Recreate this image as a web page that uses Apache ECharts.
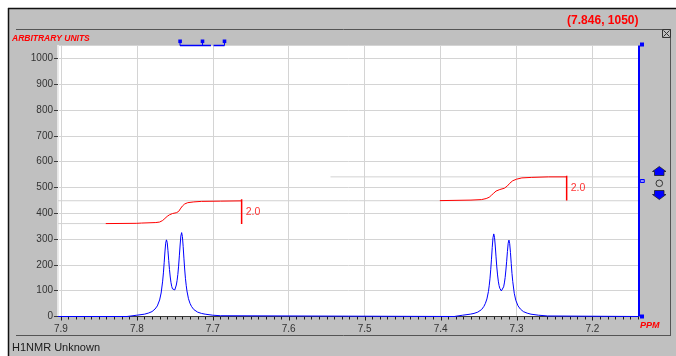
<!DOCTYPE html>
<html>
<head>
<meta charset="utf-8">
<script src="https://cdn.jsdelivr.net/npm/echarts@6/dist/echarts.min.js"></script>
<style>
html, body { margin: 0; padding: 0; background: #ffffff; }
#chart { width: 676px; height: 356px; }
</style>
</head>
<body>
<div id="chart"></div>
<script>
// Axis extents (ppm runs right-to-left, intensity bottom-to-top)
const ppmRange = [7.1394, 7.9038];
const intensityRange = [0, 1050];
// Fine ppm graduation along the bottom axis (hundredths of a ppm)
const minorTickStep = 0.01;

// H1 spectrum trace: [ppm, intensity]
const spectrum = [
  [7.9038, 0], [7.813, 0], [7.812, 2], [7.800, 5], [7.790, 9], [7.785, 13], [7.780, 19],
  [7.776, 29], [7.773, 41], [7.770, 64], [7.768, 91], [7.766, 137], [7.765, 169], [7.764, 208],
  [7.763, 250], [7.762, 284], [7.761, 297], [7.760, 287], [7.759, 255], [7.758, 217], [7.757, 182],
  [7.756, 153], [7.755, 131], [7.754, 116], [7.753, 107], [7.752, 102], [7.751, 100], [7.750, 103],
  [7.749, 110], [7.748, 122], [7.747, 139], [7.746, 163], [7.745, 195], [7.744, 235], [7.743, 277],
  [7.742, 312], [7.741, 325], [7.740, 310], [7.739, 272], [7.738, 226], [7.737, 184], [7.736, 148],
  [7.735, 121], [7.734, 99], [7.732, 69], [7.730, 51], [7.728, 39], [7.725, 27], [7.720, 17],
  [7.715, 12], [7.710, 9], [7.700, 5], [7.690, 3], [7.689, 0],
  [7.382, 0], [7.381, 3], [7.371, 5], [7.361, 9], [7.356, 12], [7.351, 17], [7.346, 27],
  [7.343, 39], [7.341, 51], [7.339, 68], [7.337, 97], [7.336, 119], [7.335, 146], [7.334, 181],
  [7.333, 222], [7.332, 268], [7.331, 305], [7.330, 320], [7.329, 307], [7.328, 273], [7.327, 231],
  [7.326, 192], [7.325, 161], [7.324, 137], [7.323, 120], [7.322, 109], [7.321, 102], [7.320, 99],
  [7.319, 101], [7.318, 106], [7.317, 115], [7.316, 130], [7.315, 151], [7.314, 180], [7.313, 214],
  [7.312, 252], [7.311, 284], [7.310, 296], [7.309, 282], [7.308, 248], [7.307, 206], [7.306, 167],
  [7.305, 136], [7.303, 90], [7.301, 63], [7.298, 41], [7.295, 29], [7.291, 19], [7.286, 13],
  [7.281, 9], [7.271, 5], [7.259, 2], [7.258, 0], [7.1394, 0]
];

// Integral curves over each doublet
const integral1 = [
  [7.841, 360], [7.800, 361], [7.794, 362], [7.775, 364], [7.770, 366], [7.766, 372], [7.763, 380],
  [7.760, 388], [7.757, 394], [7.753, 399], [7.748, 402], [7.745, 407], [7.742, 420], [7.740, 428],
  [7.737, 436], [7.733, 441], [7.725, 444], [7.715, 446], [7.690, 447], [7.662, 448]
];
const integral2 = [
  [7.401, 449], [7.360, 451], [7.346, 453], [7.340, 457], [7.336, 462], [7.333, 470], [7.330, 478],
  [7.327, 486], [7.322, 492], [7.316, 497], [7.312, 506], [7.309, 516], [7.305, 526], [7.300, 532],
  [7.293, 537], [7.280, 539], [7.258, 541], [7.234, 541]
];

// Integral end brackets: ppm, top, bottom, and their stated areas
const bracketPpm = [7.662, 7.234];
const bracketTop = [454, 545];
const bracketBottom = [358, 449];
const integralValues = [2.0, 2.0];

// Horizontal integral reference levels: [fromPpm, toPpm, level]
const integralGuides = [
  [7.9038, 7.841, 360],
  [7.9038, 7.1394, 448.5],
  [7.545, 7.1394, 541]
];

// Cursor readout
const cursorPpm = 7.846;
const cursorIntensity = 1050;

const FONT = '"Liberation Sans", Arial, sans-serif';

const chart = echarts.init(document.getElementById('chart'), null, { renderer: 'canvas' });

const series = [];
integralGuides.forEach(function (g) {
  series.push({
    type: 'line', silent: true, symbol: 'none', animation: false, z: 1,
    lineStyle: { color: '#d2d2d2', width: 1 },
    data: [[g[0], g[2]], [g[1], g[2]]]
  });
});
[integral1, integral2].forEach(function (d) {
  series.push({
    type: 'line', silent: true, symbol: 'none', animation: false, z: 3,
    lineStyle: { color: '#ff0000', width: 1 },
    data: d
  });
});
bracketPpm.forEach(function (p, i) {
  const mid = (bracketTop[i] + bracketBottom[i]) / 2;
  series.push({
    type: 'line', silent: true, symbol: 'none', animation: false, z: 3,
    lineStyle: { color: '#ff0000', width: 1.5 },
    data: [[p, bracketTop[i]], [p, bracketBottom[i]]]
  });
  series.push({
    type: 'scatter', silent: true, symbolSize: 0, animation: false, z: 4,
    data: [[p, mid]],
    label: {
      show: true, position: 'right', distance: 4,
      formatter: integralValues[i].toFixed(1),
      color: '#ff0000', fontFamily: FONT, fontSize: 10.5
    }
  });
});
series.push({
  type: 'line', silent: true, symbol: 'none', animation: false, z: 5,
  lineStyle: { color: '#0000ff', width: 1 },
  data: spectrum
});

chart.setOption({
  animation: false,
  backgroundColor: '#c0c0c0',
  grid: {
    left: 58, right: 37.5, top: 45.5, bottom: 39.5,
    show: true, backgroundColor: '#ffffff', borderWidth: 0
  },
  xAxis: {
    type: 'value', inverse: true,
    min: ppmRange[0], max: ppmRange[1], splitNumber: 8,
    axisLine: { show: true, onZero: false, lineStyle: { color: '#3a3a3a', width: 1 } },
    axisTick: { show: false },
    minorTick: { show: false },
    axisLabel: {
      showMinLabel: false, showMaxLabel: false, margin: 8,
      color: '#333333', fontFamily: FONT, fontSize: 10,
      formatter: function (v) { return v.toFixed(1); }
    },
    splitLine: { show: true, lineStyle: { color: '#d4d4d4', width: 1 } },
    minorSplitLine: { show: false }
  },
  yAxis: {
    type: 'value', min: intensityRange[0], max: intensityRange[1], interval: 100,
    axisLine: { show: true, lineStyle: { color: '#f4f4f4', width: 1.5 } },
    axisTick: { show: true, length: 4, lineStyle: { color: '#3a3a3a', width: 1 } },
    axisLabel: {
      showMaxLabel: false, margin: 5,
      color: '#333333', fontFamily: FONT, fontSize: 10,
      formatter: function (v) { return String(v); }
    },
    splitLine: { show: true, lineStyle: { color: '#d4d4d4', width: 1 } }
  },
  series: series
});

// Window chrome, slider handles and the vertical scale marker
const xr = chart.convertToPixel({ gridIndex: 0 }, [ppmRange[0], 0])[0];
const yTop = chart.convertToPixel({ gridIndex: 0 }, [ppmRange[0], intensityRange[1]])[1];
const yBot = chart.convertToPixel({ gridIndex: 0 }, [ppmRange[0], intensityRange[0]])[1];
const blue = '#0000ff';

const graphics = [
  // white outer margin and dark window edge
  { type: 'rect', silent: true, shape: { x: 0, y: 0, width: 676, height: 8 }, style: { fill: '#ffffff' } },
  { type: 'rect', silent: true, shape: { x: 0, y: 0, width: 8, height: 356 }, style: { fill: '#ffffff' } },
  { type: 'line', silent: true, shape: { x1: 8, y1: 8.5, x2: 676, y2: 8.5 }, style: { stroke: '#111', lineWidth: 1.5 } },
  { type: 'line', silent: true, shape: { x1: 8.5, y1: 8, x2: 8.5, y2: 356 }, style: { stroke: '#111', lineWidth: 1.5 } },
  { type: 'line', silent: true, shape: { x1: 16, y1: 29.5, x2: 671, y2: 29.5 }, style: { stroke: '#555', lineWidth: 1 } },
  { type: 'line', silent: true, shape: { x1: 670.5, y1: 29.5, x2: 670.5, y2: 335.5 }, style: { stroke: '#555', lineWidth: 1 } },
  { type: 'line', silent: true, shape: { x1: 16, y1: 335.5, x2: 671, y2: 335.5 }, style: { stroke: '#555', lineWidth: 1 } },
  // close box
  { type: 'rect', silent: true, shape: { x: 662.5, y: 29.5, width: 8, height: 8 }, style: { fill: '#c0c0c0', stroke: '#333', lineWidth: 1 } },
  { type: 'line', silent: true, shape: { x1: 663.5, y1: 30.5, x2: 669.5, y2: 36.5 }, style: { stroke: '#333', lineWidth: 1 } },
  { type: 'line', silent: true, shape: { x1: 669.5, y1: 30.5, x2: 663.5, y2: 36.5 }, style: { stroke: '#333', lineWidth: 1 } },
  // texts
  { type: 'text', silent: true, x: 638.5, y: 21, style: { text: '(' + cursorPpm.toFixed(3) + ', ' + cursorIntensity + ')', fill: '#ff0000', font: 'bold 12px ' + FONT, align: 'right', verticalAlign: 'middle' } },
  { type: 'text', silent: true, x: 12, y: 38.5, style: { text: 'ARBITRARY UNITS', fill: '#ff0000', font: 'italic bold 8.5px ' + FONT, align: 'left', verticalAlign: 'middle' } },
  { type: 'text', silent: true, x: 640, y: 326, style: { text: 'PPM', fill: '#ff0000', font: 'italic bold 9px ' + FONT, align: 'left', verticalAlign: 'middle' } },
  { type: 'text', silent: true, x: 12, y: 348, style: { text: 'H1NMR Unknown', fill: '#1a1a1a', font: '11px ' + FONT, align: 'left', verticalAlign: 'middle' } },
  // top slider handles
  { type: 'line', silent: true, shape: { x1: 180, y1: 45.5, x2: 211, y2: 45.5 }, style: { stroke: blue, lineWidth: 1.5 } },
  { type: 'line', silent: true, shape: { x1: 213.5, y1: 45.5, x2: 224.5, y2: 45.5 }, style: { stroke: blue, lineWidth: 1.5 } },
  { type: 'line', silent: true, shape: { x1: 180, y1: 42, x2: 180, y2: 45.5 }, style: { stroke: blue, lineWidth: 1 } },
  { type: 'line', silent: true, shape: { x1: 202.5, y1: 42, x2: 202.5, y2: 45.5 }, style: { stroke: blue, lineWidth: 1 } },
  { type: 'line', silent: true, shape: { x1: 224.5, y1: 42, x2: 224.5, y2: 45.5 }, style: { stroke: blue, lineWidth: 1 } },
  { type: 'rect', silent: true, shape: { x: 178.3, y: 39.5, width: 3.6, height: 3.6 }, style: { fill: blue } },
  { type: 'rect', silent: true, shape: { x: 200.7, y: 39.5, width: 3.6, height: 3.6 }, style: { fill: blue } },
  { type: 'rect', silent: true, shape: { x: 222.7, y: 39.5, width: 3.6, height: 3.6 }, style: { fill: blue } },
  // vertical scale marker at the right edge of the plot
  { type: 'line', silent: true, z: 10, shape: { x1: xr + 0.5, y1: yTop, x2: xr + 0.5, y2: yBot }, style: { stroke: blue, lineWidth: 2 } },
  { type: 'rect', silent: true, z: 10, shape: { x: xr + 1.5, y: yTop - 3, width: 4, height: 4 }, style: { fill: blue } },
  { type: 'rect', silent: true, z: 10, shape: { x: xr + 1.5, y: yBot - 2, width: 4, height: 4 }, style: { fill: blue } },
  { type: 'rect', silent: true, z: 10, shape: { x: xr + 1.8, y: 179.5, width: 4, height: 3 }, style: { fill: '#9090ff', stroke: blue, lineWidth: 1 } },
  // up / down arrows and centre ring
  { type: 'polygon', silent: true, shape: { points: [[659.3, 166.5], [666, 171.5], [664, 171.5], [664, 175.5], [654.5, 175.5], [654.5, 171.5], [652.5, 171.5]] }, style: { fill: blue, stroke: '#222', lineWidth: 0.8 } },
  { type: 'circle', silent: true, shape: { cx: 659.3, cy: 183.3, r: 3.3 }, style: { fill: 'none', stroke: '#333', lineWidth: 1 } },
  { type: 'polygon', silent: true, shape: { points: [[654.5, 190.5], [664, 190.5], [664, 194.5], [666, 194.5], [659.3, 199.5], [652.5, 194.5], [654.5, 194.5]] }, style: { fill: blue, stroke: '#222', lineWidth: 0.8 } }
];

// ppm graduation marks below the axis, placed through the axis scale
const firstTick = Math.ceil(ppmRange[0] / minorTickStep);
const lastTick = Math.floor(ppmRange[1] / minorTickStep);
for (let k = firstTick; k <= lastTick; k++) {
  const px = Math.round(chart.convertToPixel({ gridIndex: 0 }, [k * minorTickStep, 0])[0]) + 0.5;
  const major = k % 10 === 0;
  graphics.push({
    type: 'line', silent: true, z: 20,
    shape: { x1: px, y1: yBot + 0.5, x2: px, y2: yBot + (major ? 4 : 3) },
    style: { stroke: '#1a1a1a', lineWidth: 1 }
  });
}

chart.setOption({ graphic: { elements: graphics } });
</script>
</body>
</html>
